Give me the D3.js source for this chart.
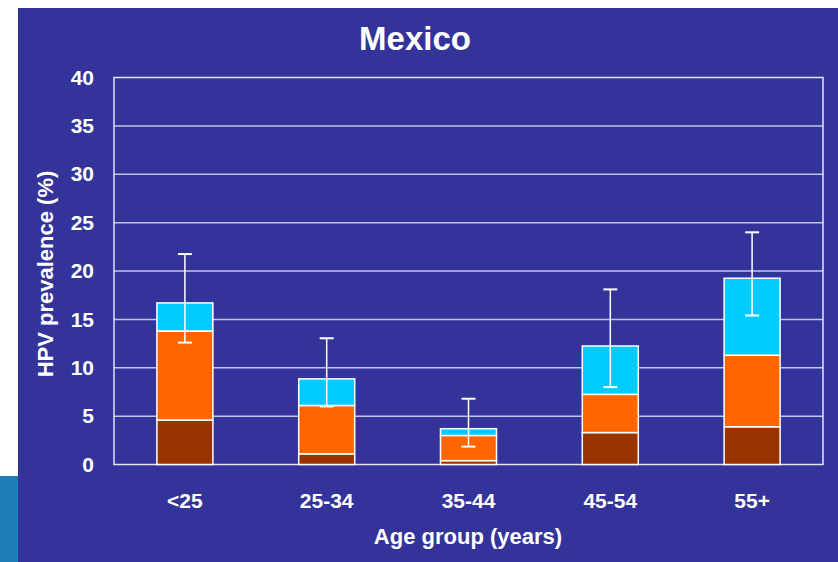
<!DOCTYPE html>
<html><head><meta charset="utf-8">
<script src="https://cdn.jsdelivr.net/npm/d3@7"></script>
<style>body{margin:0;background:#fff;}svg{display:block;}</style>
</head><body>
<svg id="c" width="838" height="562"></svg>
<script>
const categories = ["<25", "25-34", "35-44", "45-54", "55+"];
const seriesA = [4.6, 1.1, 0.4, 3.3, 3.9];      // dark brown (bottom)
const seriesB = [9.2, 5.0, 2.6, 3.95, 7.4];     // orange (middle)
const seriesC = [2.9, 2.75, 0.7, 5.0, 7.95];    // cyan (top)
const errLow = [12.6, 6.0, 1.85, 8.0, 15.4];
const errHigh = [21.75, 13.05, 6.8, 18.1, 24.0];
const yTicks = [0, 5, 10, 15, 20, 25, 30, 35, 40];
const colors = ["#993300", "#FF6600", "#00CCFF"];

const svg = d3.select("#c");
const font = "'Liberation Sans', Arial, sans-serif";
// background pieces
svg.append("rect").attr("x", 0).attr("y", 0).attr("width", 838).attr("height", 562).attr("fill", "#fff");
svg.append("rect").attr("x", 18).attr("y", 8).attr("width", 820).attr("height", 554).attr("fill", "#333399");
svg.append("rect").attr("x", 0).attr("y", 476).attr("width", 18).attr("height", 86).attr("fill", "#1f7db5");

const L = 114, R = 823, T = 77.5, B = 464.5;
const x = d3.scaleBand().domain(categories).range([L, R]).paddingInner(0).paddingOuter(0);
const y = d3.scaleLinear().domain([0, 40]).range([B, T]);

// gridlines
svg.append("g").selectAll("line").data(yTicks.filter(t => t > 0 && t < 40)).join("line")
  .attr("x1", L).attr("x2", R).attr("y1", d => y(d)).attr("y2", d => y(d))
  .attr("stroke", "#c4c4e4").attr("stroke-width", 1.5);

// plot border
svg.append("rect").attr("x", L).attr("y", T).attr("width", R - L).attr("height", B - T)
  .attr("fill", "none").attr("stroke", "#e4e4f2").attr("stroke-width", 1.5);

// stacked bars
const data = categories.map((c, i) => ({cat: c, a: seriesA[i], b: seriesB[i], c: seriesC[i]}));
const stack = d3.stack().keys(["a", "b", "c"])(data);
const bw = 56;
stack.forEach((layer, k) => {
  svg.append("g").selectAll("rect").data(layer).join("rect")
    .attr("x", d => x(d.data.cat) + x.bandwidth() / 2 - bw / 2)
    .attr("width", bw)
    .attr("y", d => y(d[1]))
    .attr("height", d => y(d[0]) - y(d[1]))
    .attr("fill", colors[k])
    .attr("stroke", "#ffffff").attr("stroke-width", 1.5);
});

// error bars
const eg = svg.append("g").attr("stroke", "#ffffff");
categories.forEach((c, i) => {
  const cx = x(c) + x.bandwidth() / 2;
  eg.append("line").attr("x1", cx).attr("x2", cx).attr("y1", y(errLow[i])).attr("y2", y(errHigh[i])).attr("stroke-width", 1.5);
  [errLow[i], errHigh[i]].forEach(v => {
    eg.append("line").attr("x1", cx - 7).attr("x2", cx + 7).attr("y1", y(v)).attr("y2", y(v)).attr("stroke-width", 2);
  });
});

// y axis labels
const yAxis = d3.axisLeft(y).tickValues(yTicks).tickSize(0).tickPadding(20);
const yg = svg.append("g").attr("transform", `translate(${L},0)`).call(yAxis);
yg.select(".domain").remove();
yg.selectAll("text").attr("fill", "#fff").attr("font-family", font).attr("font-weight", "bold").attr("font-size", 21);

// x axis labels
const xAxis = d3.axisBottom(x).tickSize(0).tickPadding(0);
const xg = svg.append("g").attr("transform", `translate(0,${B})`).call(xAxis);
xg.select(".domain").remove();
xg.selectAll("text").attr("dy", null).attr("y", 43.5).attr("fill", "#fff").attr("font-family", font).attr("font-weight", "bold").attr("font-size", 21);

// titles
svg.append("text").attr("x", 415).attr("y", 49.5).attr("text-anchor", "middle")
  .attr("fill", "#fff").attr("font-family", font).attr("font-weight", "bold").attr("font-size", 33).text("Mexico");
svg.append("text").attr("x", 468).attr("y", 543.5).attr("text-anchor", "middle")
  .attr("fill", "#fff").attr("font-family", font).attr("font-weight", "bold").attr("font-size", 22).text("Age group (years)");
svg.append("text").attr("transform", "translate(52.5,274) rotate(-90)").attr("text-anchor", "middle")
  .attr("fill", "#fff").attr("font-family", font).attr("font-weight", "bold").attr("font-size", 22).text("HPV prevalence (%)");
</script>
</body></html>
